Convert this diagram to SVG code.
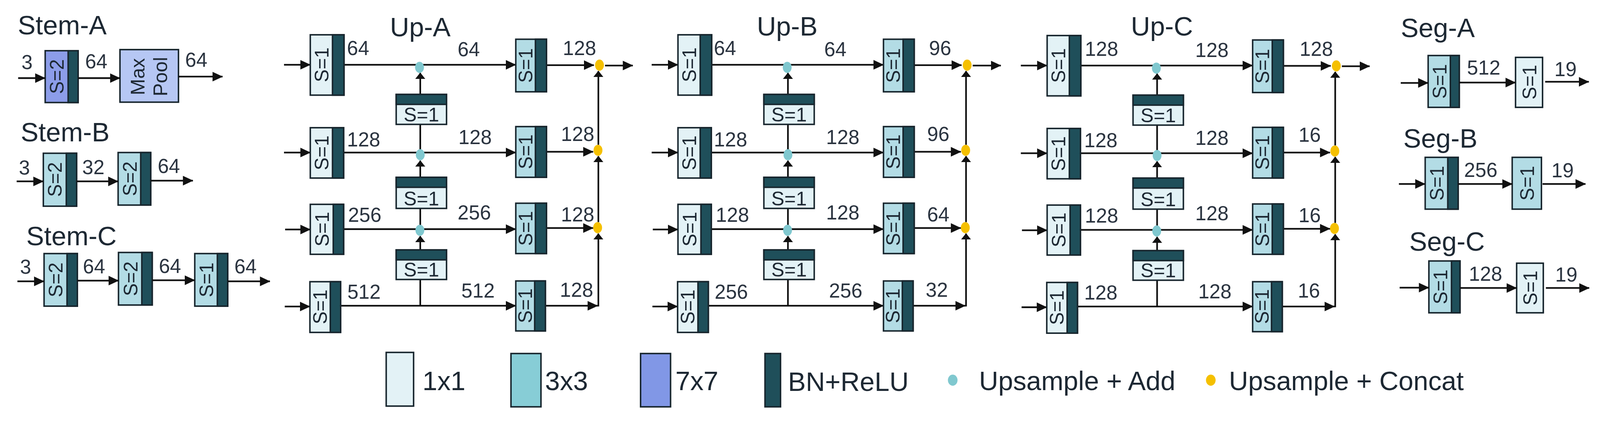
<svg xmlns="http://www.w3.org/2000/svg" width="4321" height="1119" viewBox="0 0 4321 1119">
<defs>
<marker id="ah" markerUnits="userSpaceOnUse" markerWidth="28" markerHeight="28" viewBox="0 0 28 28" refX="27" refY="14" orient="auto"><path d="M0,1 L28,14 L0,27 z" fill="#111"/></marker>
<marker id="av" markerUnits="userSpaceOnUse" markerWidth="17" markerHeight="28" viewBox="0 0 17 28" refX="16" refY="14" orient="auto"><path d="M0,0.5 L17,14 L0,27.5 z" fill="#111"/></marker>
</defs>
<style>
text{font-family:"Liberation Sans",Arial,Helvetica,sans-serif;fill:#1d2833}
.ti{font-size:72px}
.lb{font-size:54px;fill:#2b3440}
.rt{font-size:52px;text-anchor:middle}
.ht{font-size:53px;text-anchor:middle}
.lg{font-size:72px}
.c1{fill:#e3f2f6;stroke:#17252d;stroke-width:4}
.c3{fill:#b3dce5;stroke:#17252d;stroke-width:4}
.c7{fill:#8c9de9;stroke:#17252d;stroke-width:4}
.mp{fill:#b6c7f4;stroke:#17252d;stroke-width:4}
.bn{fill:#1f4f5a;stroke:#17252d;stroke-width:4}
.lgc3{fill:#87cdd6;stroke:#17252d;stroke-width:4}
.lgc7{fill:#8197e6;stroke:#17252d;stroke-width:4}
.ln{fill:none;stroke:#111;stroke-width:4.5}
.h{marker-end:url(#ah)}
.v{marker-end:url(#av)}
.ad{fill:#80c8cf}
.cc{fill:#f5c000}
</style>
<rect width="4321" height="1119" fill="#fff"/>
<g id="diagram" transform="scale(0.9479)">

<!-- ================= STEM ================= -->
<g id="stem-a">
<text class="ti" x="48" y="93">Stem-A</text>
<g id="stemA-conv"><rect class="c7" x="122" y="137" width="89" height="140"/><rect class="bn" x="184" y="137" width="27" height="140"/><text class="rt" transform="translate(153,207) rotate(-90)" y="19">S=2</text></g>
<g id="stemA-pool"><rect class="mp" x="324" y="134" width="158" height="142"/><text class="ht" transform="translate(371,207) rotate(-90)" y="19">Max</text><text class="ht" transform="translate(432,207) rotate(-90)" y="19">Pool</text></g>
<text class="lb" x="58" y="187">3</text><text class="lb" x="230" y="185">64</text><text class="lb" x="500" y="180">64</text>
</g>
<g id="stem-b">
<text class="ti" x="56" y="382">Stem-B</text>
<g id="stemB-c1"><rect class="c3" x="117" y="414" width="90" height="143"/><rect class="bn" x="179" y="414" width="28" height="143"/><text class="rt" transform="translate(148,485) rotate(-90)" y="19">S=2</text></g>
<g id="stemB-c2"><rect class="c3" x="319" y="412" width="88" height="142"/><rect class="bn" x="380" y="412" width="27" height="142"/><text class="rt" transform="translate(350,483) rotate(-90)" y="19">S=2</text></g>
<text class="lb" x="51" y="472">3</text><text class="lb" x="222" y="471">32</text><text class="lb" x="426" y="467">64</text>
</g>
<g id="stem-c">
<text class="ti" x="71" y="662">Stem-C</text>
<g id="stemC-c1"><rect class="c3" x="119" y="685" width="90" height="142"/><rect class="bn" x="181" y="685" width="28" height="142"/><text class="rt" transform="translate(150,756) rotate(-90)" y="19">S=2</text></g>
<g id="stemC-c2"><rect class="c3" x="320" y="682" width="91" height="142"/><rect class="bn" x="383" y="682" width="28" height="142"/><text class="rt" transform="translate(352,753) rotate(-90)" y="19">S=2</text></g>
<g id="stemC-c3"><rect class="c3" x="526" y="685" width="89" height="142"/><rect class="bn" x="587" y="685" width="28" height="142"/><text class="rt" transform="translate(557,756) rotate(-90)" y="19">S=1</text></g>
<text class="lb" x="54" y="740">3</text><text class="lb" x="224" y="739">64</text><text class="lb" x="429" y="737">64</text><text class="lb" x="633" y="738">64</text>
</g>
<g id="stem-connectors" class="ln">
<path class="h" d="M49,211 H122"/><path class="h" d="M211,211 H324"/><path class="h" d="M482,207 H601"/>
<path class="h" d="M45,490 H117"/><path class="h" d="M207,490 H319"/><path class="h" d="M407,488 H521"/>
<path class="h" d="M47,760 H119"/><path class="h" d="M209,758 H320"/><path class="h" d="M411,757 H526"/><path class="h" d="M615,760 H729"/>
</g>

<!-- ================= UP-A ================= -->
<g id="up-a">
<text class="ti" x="1053" y="98">Up-A</text>
<g id="upA-connectors" class="ln">
<path class="h" d="M767,175 H838"/><path class="h" d="M767,412 H838"/><path class="h" d="M770,620 H838"/><path class="h" d="M769,828 H837"/>
<path class="h" d="M929,175 H1393"/><path class="h" d="M928,412 H1393"/><path class="h" d="M928,619 H1393"/><path class="h" d="M920,826 H1393"/>
<path class="h" d="M1476,176 H1604"/><path class="h" d="M1476,410 H1602"/><path class="h" d="M1476,616 H1602"/><path class="h" d="M1471,826 H1614"/>
<path class="v" d="M1616,828 V631"/><path class="v" d="M1616,600 V422"/><path class="v" d="M1616,391 V192"/>
<path class="v" d="M1135,255 V197"/><path d="M1135,412 V336"/><path class="v" d="M1135,479 V434"/><path d="M1135,619 V563"/><path class="v" d="M1135,675 V638"/><path d="M1135,826 V755"/>
<path class="h" d="M1634,177 H1709"/>
</g>
<g id="upA-l1"><rect class="c1" x="838" y="94" width="91" height="163"/><rect class="bn" x="898" y="94" width="31" height="163"/><text class="rt" transform="translate(868,175) rotate(-90)" y="19">S=1</text></g>
<g id="upA-l2"><rect class="c1" x="838" y="345" width="90" height="136"/><rect class="bn" x="898" y="345" width="30" height="136"/><text class="rt" transform="translate(868,413) rotate(-90)" y="19">S=1</text></g>
<g id="upA-l3"><rect class="c1" x="838" y="552" width="90" height="135"/><rect class="bn" x="900" y="552" width="28" height="135"/><text class="rt" transform="translate(869,619) rotate(-90)" y="19">S=1</text></g>
<g id="upA-l4"><rect class="c1" x="837" y="761" width="83" height="137"/><rect class="bn" x="892" y="761" width="28" height="137"/><text class="rt" transform="translate(864,829) rotate(-90)" y="19">S=1</text></g>
<g id="upA-m1"><rect class="c1" x="1070" y="255" width="136" height="81"/><rect class="bn" x="1070" y="255" width="136" height="27"/><text class="ht" x="1138" y="328">S=1</text></g>
<g id="upA-m2"><rect class="c1" x="1070" y="479" width="136" height="84"/><rect class="bn" x="1070" y="479" width="136" height="27"/><text class="ht" x="1138" y="555">S=1</text></g>
<g id="upA-m3"><rect class="c1" x="1070" y="675" width="136" height="80"/><rect class="bn" x="1070" y="675" width="136" height="27"/><text class="ht" x="1138" y="747">S=1</text></g>
<g id="upA-r1"><rect class="c3" x="1393" y="106" width="83" height="142"/><rect class="bn" x="1446" y="106" width="30" height="142"/><text class="rt" transform="translate(1419,177) rotate(-90)" y="19">S=1</text></g>
<g id="upA-r2"><rect class="c3" x="1393" y="342" width="83" height="137"/><rect class="bn" x="1446" y="342" width="30" height="137"/><text class="rt" transform="translate(1419,410) rotate(-90)" y="19">S=1</text></g>
<g id="upA-r3"><rect class="c3" x="1393" y="549" width="83" height="136"/><rect class="bn" x="1446" y="549" width="30" height="136"/><text class="rt" transform="translate(1419,617) rotate(-90)" y="19">S=1</text></g>
<g id="upA-r4"><rect class="c3" x="1393" y="759" width="80" height="135"/><rect class="bn" x="1444" y="759" width="29" height="135"/><text class="rt" transform="translate(1418,826) rotate(-90)" y="19">S=1</text></g>
<g id="upA-dots"><ellipse class="ad" cx="1133" cy="182" rx="12" ry="15"/><ellipse class="ad" cx="1135" cy="418" rx="12" ry="15"/><ellipse class="ad" cx="1134" cy="622" rx="12" ry="15"/>
<ellipse class="cc" cx="1619" cy="176" rx="12" ry="15"/><ellipse class="cc" cx="1615" cy="406" rx="12" ry="15"/><ellipse class="cc" cx="1614" cy="615" rx="12" ry="15"/></g>
<g id="upA-labels">
<text class="lb" x="937" y="149">64</text><text class="lb" x="1236" y="152">64</text><text class="lb" x="1520" y="149">128</text>
<text class="lb" x="937" y="396">128</text><text class="lb" x="1238" y="389">128</text><text class="lb" x="1515" y="381">128</text>
<text class="lb" x="940" y="599">256</text><text class="lb" x="1236" y="593">256</text><text class="lb" x="1515" y="598">128</text>
<text class="lb" x="938" y="807">512</text><text class="lb" x="1246" y="804">512</text><text class="lb" x="1512" y="802">128</text>
</g>
</g>

<!-- ================= UP-B ================= -->
<g id="up-b" transform="translate(993,0)">
<text class="ti" x="1051" y="96">Up-B</text>
<g id="upB-connectors" class="ln">
<path class="h" d="M767,175 H838"/><path class="h" d="M767,412 H838"/><path class="h" d="M770,620 H838"/><path class="h" d="M769,828 H837"/>
<path class="h" d="M929,175 H1393"/><path class="h" d="M928,412 H1393"/><path class="h" d="M928,619 H1393"/><path class="h" d="M920,826 H1393"/>
<path class="h" d="M1476,176 H1604"/><path class="h" d="M1476,410 H1602"/><path class="h" d="M1476,616 H1602"/><path class="h" d="M1471,826 H1614"/>
<path class="v" d="M1616,828 V631"/><path class="v" d="M1616,600 V422"/><path class="v" d="M1616,391 V192"/>
<path class="v" d="M1135,255 V197"/><path d="M1135,412 V336"/><path class="v" d="M1135,479 V434"/><path d="M1135,619 V563"/><path class="v" d="M1135,675 V638"/><path d="M1135,826 V755"/>
<path class="h" d="M1634,177 H1710"/>
</g>
<g id="upB-l1"><rect class="c1" x="838" y="94" width="91" height="163"/><rect class="bn" x="898" y="94" width="31" height="163"/><text class="rt" transform="translate(868,175) rotate(-90)" y="19">S=1</text></g>
<g id="upB-l2"><rect class="c1" x="838" y="345" width="90" height="136"/><rect class="bn" x="898" y="345" width="30" height="136"/><text class="rt" transform="translate(868,413) rotate(-90)" y="19">S=1</text></g>
<g id="upB-l3"><rect class="c1" x="838" y="552" width="90" height="135"/><rect class="bn" x="900" y="552" width="28" height="135"/><text class="rt" transform="translate(869,619) rotate(-90)" y="19">S=1</text></g>
<g id="upB-l4"><rect class="c1" x="837" y="761" width="83" height="137"/><rect class="bn" x="892" y="761" width="28" height="137"/><text class="rt" transform="translate(864,829) rotate(-90)" y="19">S=1</text></g>
<g id="upB-m1"><rect class="c1" x="1070" y="255" width="136" height="81"/><rect class="bn" x="1070" y="255" width="136" height="27"/><text class="ht" x="1138" y="328">S=1</text></g>
<g id="upB-m2"><rect class="c1" x="1070" y="479" width="136" height="84"/><rect class="bn" x="1070" y="479" width="136" height="27"/><text class="ht" x="1138" y="555">S=1</text></g>
<g id="upB-m3"><rect class="c1" x="1070" y="675" width="136" height="80"/><rect class="bn" x="1070" y="675" width="136" height="27"/><text class="ht" x="1138" y="747">S=1</text></g>
<g id="upB-r1"><rect class="c3" x="1393" y="106" width="83" height="142"/><rect class="bn" x="1446" y="106" width="30" height="142"/><text class="rt" transform="translate(1419,177) rotate(-90)" y="19">S=1</text></g>
<g id="upB-r2"><rect class="c3" x="1393" y="342" width="83" height="137"/><rect class="bn" x="1446" y="342" width="30" height="137"/><text class="rt" transform="translate(1419,410) rotate(-90)" y="19">S=1</text></g>
<g id="upB-r3"><rect class="c3" x="1393" y="549" width="83" height="136"/><rect class="bn" x="1446" y="549" width="30" height="136"/><text class="rt" transform="translate(1419,617) rotate(-90)" y="19">S=1</text></g>
<g id="upB-r4"><rect class="c3" x="1393" y="759" width="80" height="135"/><rect class="bn" x="1444" y="759" width="29" height="135"/><text class="rt" transform="translate(1418,826) rotate(-90)" y="19">S=1</text></g>
<g id="upB-dots"><ellipse class="ad" cx="1133" cy="182" rx="12" ry="15"/><ellipse class="ad" cx="1135" cy="418" rx="12" ry="15"/><ellipse class="ad" cx="1134" cy="622" rx="12" ry="15"/>
<ellipse class="cc" cx="1619" cy="176" rx="12" ry="15"/><ellipse class="cc" cx="1615" cy="406" rx="12" ry="15"/><ellipse class="cc" cx="1614" cy="615" rx="12" ry="15"/></g>
<g id="upB-labels">
<text class="lb" x="935" y="149">64</text><text class="lb" x="1233" y="152">64</text><text class="lb" x="1516" y="149">96</text>
<text class="lb" x="935" y="396">128</text><text class="lb" x="1238" y="389">128</text><text class="lb" x="1511" y="381">96</text>
<text class="lb" x="940" y="599">128</text><text class="lb" x="1238" y="593">128</text><text class="lb" x="1511" y="598">64</text>
<text class="lb" x="937" y="807">256</text><text class="lb" x="1246" y="804">256</text><text class="lb" x="1507" y="802">32</text>
</g>
</g>

<!-- ================= UP-C ================= -->
<g id="up-c" transform="translate(1990,0)">
<text class="ti" x="1064" y="96">Up-C</text>
<g id="upC-connectors" class="ln">
<path class="h" d="M767,177 H838"/><path class="h" d="M767,414 H838"/><path class="h" d="M770,622 H838"/><path class="h" d="M769,830 H837"/>
<path class="h" d="M929,177 H1393"/><path class="h" d="M928,414 H1393"/><path class="h" d="M928,621 H1393"/><path class="h" d="M920,828 H1393"/>
<path class="h" d="M1476,178 H1604"/><path class="h" d="M1476,412 H1602"/><path class="h" d="M1476,618 H1602"/><path class="h" d="M1471,828 H1614"/>
<path class="v" d="M1616,830 V633"/><path class="v" d="M1616,602 V424"/><path class="v" d="M1616,393 V194"/>
<path class="v" d="M1135,257 V199"/><path d="M1135,414 V338"/><path class="v" d="M1135,481 V436"/><path d="M1135,621 V565"/><path class="v" d="M1135,677 V640"/><path d="M1135,828 V757"/>
<path class="h" d="M1634,179 H1709"/>
</g>
<g id="upC-l1"><rect class="c1" x="838" y="96" width="91" height="163"/><rect class="bn" x="898" y="96" width="31" height="163"/><text class="rt" transform="translate(868,177) rotate(-90)" y="19">S=1</text></g>
<g id="upC-l2"><rect class="c1" x="838" y="347" width="90" height="136"/><rect class="bn" x="898" y="347" width="30" height="136"/><text class="rt" transform="translate(868,415) rotate(-90)" y="19">S=1</text></g>
<g id="upC-l3"><rect class="c1" x="838" y="554" width="90" height="135"/><rect class="bn" x="900" y="554" width="28" height="135"/><text class="rt" transform="translate(869,621) rotate(-90)" y="19">S=1</text></g>
<g id="upC-l4"><rect class="c1" x="837" y="763" width="83" height="137"/><rect class="bn" x="892" y="763" width="28" height="137"/><text class="rt" transform="translate(864,831) rotate(-90)" y="19">S=1</text></g>
<g id="upC-m1"><rect class="c1" x="1070" y="257" width="136" height="81"/><rect class="bn" x="1070" y="257" width="136" height="27"/><text class="ht" x="1138" y="330">S=1</text></g>
<g id="upC-m2"><rect class="c1" x="1070" y="481" width="136" height="84"/><rect class="bn" x="1070" y="481" width="136" height="27"/><text class="ht" x="1138" y="557">S=1</text></g>
<g id="upC-m3"><rect class="c1" x="1070" y="677" width="136" height="80"/><rect class="bn" x="1070" y="677" width="136" height="27"/><text class="ht" x="1138" y="749">S=1</text></g>
<g id="upC-r1"><rect class="c3" x="1393" y="108" width="83" height="142"/><rect class="bn" x="1446" y="108" width="30" height="142"/><text class="rt" transform="translate(1419,179) rotate(-90)" y="19">S=1</text></g>
<g id="upC-r2"><rect class="c3" x="1393" y="344" width="83" height="137"/><rect class="bn" x="1446" y="344" width="30" height="137"/><text class="rt" transform="translate(1419,412) rotate(-90)" y="19">S=1</text></g>
<g id="upC-r3"><rect class="c3" x="1393" y="551" width="83" height="136"/><rect class="bn" x="1446" y="551" width="30" height="136"/><text class="rt" transform="translate(1419,619) rotate(-90)" y="19">S=1</text></g>
<g id="upC-r4"><rect class="c3" x="1393" y="761" width="80" height="135"/><rect class="bn" x="1444" y="761" width="29" height="135"/><text class="rt" transform="translate(1418,828) rotate(-90)" y="19">S=1</text></g>
<g id="upC-dots"><ellipse class="ad" cx="1133" cy="184" rx="12" ry="15"/><ellipse class="ad" cx="1135" cy="420" rx="12" ry="15"/><ellipse class="ad" cx="1134" cy="624" rx="12" ry="15"/>
<ellipse class="cc" cx="1619" cy="178" rx="12" ry="15"/><ellipse class="cc" cx="1615" cy="408" rx="12" ry="15"/><ellipse class="cc" cx="1614" cy="617" rx="12" ry="15"/></g>
<g id="upC-labels">
<text class="lb" x="940" y="151">128</text><text class="lb" x="1238" y="154">128</text><text class="lb" x="1520" y="151">128</text>
<text class="lb" x="938" y="398">128</text><text class="lb" x="1238" y="391">128</text><text class="lb" x="1517" y="383">16</text>
<text class="lb" x="940" y="601">128</text><text class="lb" x="1238" y="595">128</text><text class="lb" x="1517" y="600">16</text>
<text class="lb" x="938" y="809">128</text><text class="lb" x="1246" y="806">128</text><text class="lb" x="1515" y="804">16</text>
</g>
</g>

<!-- ================= SEG ================= -->
<g id="seg-a">
<text class="ti" x="3783" y="100">Seg-A</text>
<g id="segA-c1"><rect class="c3" x="3857" y="150" width="84" height="140"/><rect class="bn" x="3917" y="150" width="24" height="140"/><text class="rt" transform="translate(3887,220) rotate(-90)" y="19">S=1</text></g>
<g id="segA-c2"><rect class="c1" x="4093" y="155" width="73" height="135"/><text class="rt" transform="translate(4130,222) rotate(-90)" y="19">S=1</text></g>
<text class="lb" x="3962" y="202">512</text><text class="lb" x="4198" y="206">19</text>
</g>
<g id="seg-b">
<text class="ti" x="3790" y="399">Seg-B</text>
<g id="segB-c1"><rect class="c3" x="3849" y="425" width="89" height="140"/><rect class="bn" x="3910" y="425" width="28" height="140"/><text class="rt" transform="translate(3880,495) rotate(-90)" y="19">S=1</text></g>
<g id="segB-c2"><rect class="c3" x="4084" y="425" width="79" height="140"/><text class="rt" transform="translate(4124,495) rotate(-90)" y="19">S=1</text></g>
<text class="lb" x="3954" y="478">256</text><text class="lb" x="4190" y="479">19</text>
</g>
<g id="seg-c">
<text class="ti" x="3806" y="677">Seg-C</text>
<g id="segC-c1"><rect class="c3" x="3859" y="705" width="84" height="140"/><rect class="bn" x="3920" y="705" width="23" height="140"/><text class="rt" transform="translate(3890,775) rotate(-90)" y="19">S=1</text></g>
<g id="segC-c2"><rect class="c1" x="4096" y="711" width="72" height="134"/><text class="rt" transform="translate(4132,778) rotate(-90)" y="19">S=1</text></g>
<text class="lb" x="3967" y="758">128</text><text class="lb" x="4200" y="761">19</text>
</g>
<g id="seg-connectors" class="ln">
<path class="h" d="M3783,224 H3857"/><path class="h" d="M3941,223 H4093"/><path class="h" d="M4173,221 H4291"/>
<path class="h" d="M3778,497 H3849"/><path class="h" d="M3938,497 H4084"/><path class="h" d="M4166,497 H4282"/>
<path class="h" d="M3780,777 H3859"/><path class="h" d="M3943,778 H4096"/><path class="h" d="M4175,778 H4292"/>
</g>

<!-- ================= LEGEND ================= -->
<g id="legend">
<g id="lg-1x1"><rect class="c1" x="1043" y="952" width="74" height="145"/><text class="lg" x="1141" y="1054">1x1</text></g>
<g id="lg-3x3"><rect class="lgc3" x="1380" y="955" width="81" height="144"/><text class="lg" x="1472" y="1054">3x3</text></g>
<g id="lg-7x7"><rect class="lgc7" x="1730" y="955" width="81" height="144"/><text class="lg" x="1824" y="1054">7x7</text></g>
<g id="lg-bn"><rect class="bn" x="2066" y="955" width="42" height="144"/><text class="lg" x="2128" y="1056">BN+ReLU</text></g>
<g id="lg-add"><ellipse class="ad" cx="2573" cy="1027" rx="13" ry="15"/><text class="lg" x="2644" y="1054">Upsample + Add</text></g>
<g id="lg-cat"><ellipse class="cc" cx="3270" cy="1027" rx="13" ry="15"/><text class="lg" x="3319" y="1054">Upsample + Concat</text></g>
</g>
</g>
</svg>
